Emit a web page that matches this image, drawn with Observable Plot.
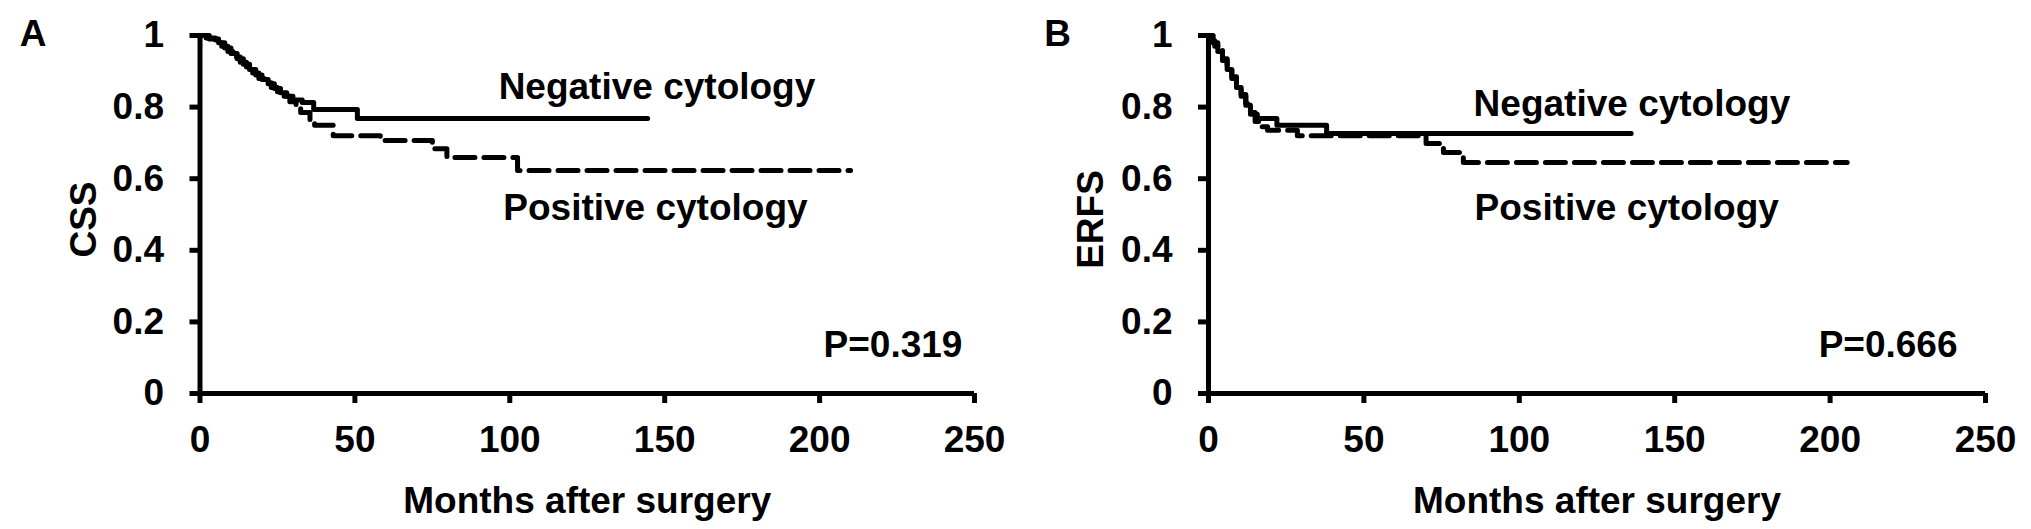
<!DOCTYPE html>
<html><head><meta charset="utf-8">
<script src="https://cdn.jsdelivr.net/npm/d3@7"></script>
<script src="https://cdn.jsdelivr.net/npm/@observablehq/plot@0.6"></script>
<style>
html,body{margin:0;padding:0;background:#fff;}
#wrap{position:relative;width:2031px;height:529px;overflow:hidden;background:#fff;}
#wrap > div{position:absolute;top:0;}
svg{display:block;}
</style></head><body>
<div id="wrap"><div id="pa" style="left:0px"></div><div id="pb" style="left:1015px"></div></div>
<script>
// ---- data ----
const xTicks = [0, 50, 100, 150, 200, 250];
const yTicks = [0, 0.2, 0.4, 0.6, 0.8, 1];
const xTitle = "Months after surgery";
const seriesNames = ["Negative cytology", "Positive cytology"];

// Panel A: CSS
const cssNegMonths = [0, 3, 6, 8, 10, 12, 14, 16, 18, 20, 22, 24, 26, 28, 30, 33, 36.7, 50.8, 144.5];
const cssNegSurv   = [1, 0.99, 0.98, 0.965, 0.95, 0.935, 0.92, 0.905, 0.89, 0.877, 0.865, 0.852, 0.84, 0.83, 0.82, 0.813, 0.793, 0.768, 0.768];
const cssPosMonths = [0, 2, 5, 7, 9, 11, 13, 15, 17, 19, 21, 23, 25, 27, 29, 31, 32.5, 35.5, 37, 43, 58.2, 75, 79.7, 102.5, 210];
const cssPosSurv   = [1, 0.993, 0.985, 0.97, 0.955, 0.94, 0.925, 0.91, 0.895, 0.88, 0.868, 0.855, 0.843, 0.83, 0.815, 0.8, 0.785, 0.765, 0.749, 0.72, 0.707, 0.684, 0.659, 0.623, 0.623];

// Panel B: ERFS
const erfsNegMonths = [0, 1, 2, 3, 4.5, 6, 7.5, 9, 10.5, 12, 13.5, 15.7, 22, 38, 136];
const erfsNegSurv   = [1, 0.985, 0.97, 0.955, 0.93, 0.905, 0.88, 0.855, 0.83, 0.805, 0.78, 0.768, 0.749, 0.726, 0.726];
const erfsPosMonths = [0, 1.5, 3, 4.5, 6, 7.5, 9, 10.5, 12, 13.5, 15, 16.5, 19, 28.6, 70, 75.6, 82, 205.5];
const erfsPosSurv   = [1, 0.98, 0.96, 0.935, 0.91, 0.885, 0.86, 0.835, 0.81, 0.785, 0.76, 0.745, 0.735, 0.72, 0.698, 0.673, 0.645, 0.645];

const panelLetters = ["A", "B"];
const yTitles = ["CSS", "ERFS"];
const pValues = ["P=0.319", "P=0.666"];

// ---- drawing ----
const FONT = "'Liberation Sans', Arial, Helvetica, sans-serif";
const zip = (ms, ss) => ms.map((m, i) => ({m, s: ss[i]}));

function panel(o) {
  const neg = zip(o.negM, o.negS), pos = zip(o.posM, o.posS);
  const txt = {fontSize: 37, fontWeight: "bold", fill: "#000"};
  return Plot.plot({
    width: o.width, height: 529,
    marginLeft: o.ml, marginRight: o.mr, marginTop: 35, marginBottom: 136,
    x: {domain: [0, 250]},
    y: {domain: [0, 1]},
    style: {fontFamily: FONT, fontSize: "37px", fontWeight: "bold", color: "#000", background: "#fff", overflow: "visible"},
    marks: [
      Plot.axisX(xTicks, {tickSize: 10, tickPadding: 22, strokeWidth: 5, label: null, fontSize: 37, fontWeight: "bold", tickFormat: d3.format("~g")}),
      Plot.axisY(yTicks, {tickSize: 10, tickPadding: 26, strokeWidth: 5, label: null, fontSize: 37, fontWeight: "bold", tickFormat: d3.format("~g")}),
      Plot.ruleX([0], {strokeWidth: 5, stroke: "#000"}),
      Plot.ruleY([0], {strokeWidth: 5, stroke: "#000"}),
      Plot.line(pos, {x: "m", y: "s", curve: "step-after", stroke: "#000", strokeWidth: 5, strokeDasharray: "20,9"}),
      Plot.line(neg, {x: "m", y: "s", curve: "step-after", stroke: "#000", strokeWidth: 5}),
      Plot.text([seriesNames[0]], {x: o.negLab[0], y: o.negLab[1], textAnchor: "start", ...txt}),
      Plot.text([seriesNames[1]], {x: o.posLab[0], y: o.posLab[1], textAnchor: "start", ...txt}),
      Plot.text([o.p], {x: o.pLab[0], y: o.pLab[1], textAnchor: "end", ...txt}),
      Plot.text([xTitle], {frameAnchor: "bottom", textAnchor: "middle", lineAnchor: "middle", dy: 108, ...txt}),
      Plot.text([o.yTitle], {frameAnchor: "left", textAnchor: "middle", lineAnchor: "middle", rotate: -90, dx: o.yTitleDx, dy: 5, ...txt}),
      Plot.text([o.letter], {frameAnchor: "top-left", textAnchor: "middle", lineAnchor: "middle", dx: o.letterDx, dy: -1, ...txt})
    ]
  });
}

document.getElementById("pa").appendChild(panel({
  width: 1015, ml: 199.5, mr: 41,
  negM: cssNegMonths, negS: cssNegSurv, posM: cssPosMonths, posS: cssPosSurv,
  negLab: [96.4, 0.855], posLab: [97.9, 0.517], pLab: [246.1, 0.134],
  p: pValues[0], yTitle: yTitles[0], yTitleDx: -116, letter: panelLetters[0], letterDx: -167
}));
document.getElementById("pb").appendChild(panel({
  width: 1016, ml: 193, mr: 46,
  negM: erfsNegMonths, negS: erfsNegSurv, posM: erfsPosMonths, posS: erfsPosSurv,
  negLab: [85.3, 0.807], posLab: [85.6, 0.517], pLab: [241, 0.134],
  p: pValues[1], yTitle: yTitles[1], yTitleDx: -117, letter: panelLetters[1], letterDx: -151
}));
</script>
</body></html>
